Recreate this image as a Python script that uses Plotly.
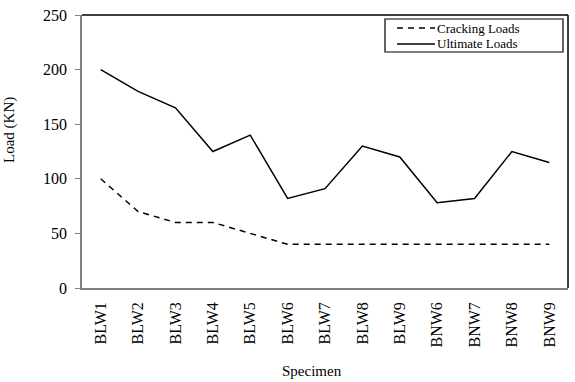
import plotly.graph_objects as go

specimens = ["BLW1", "BLW2", "BLW3", "BLW4", "BLW5", "BLW6", "BLW7", "BLW8", "BLW9",
             "BNW6", "BNW7", "BNW8", "BNW9"]
cracking_loads = [100, 70, 60, 60, 50, 40, 40, 40, 40, 40, 40, 40, 40]
ultimate_loads = [200, 180, 165, 125, 140, 82, 91, 130, 120, 78, 82, 125, 115]
y_ticks = [0, 50, 100, 150, 200, 250]
series_names = ["Cracking Loads", "Ultimate Loads"]

W, H = 575, 382
L, R, T, B = 82, 7, 15, 94
pw, ph = W - L - R, H - T - B
font_family = "Liberation Serif, Times New Roman, serif"
crack_dash = "6px,5px"


def px_x(x):
    return (x - L) / pw


def px_y(y):
    return (H - B - y) / ph


fig = go.Figure()
fig.add_trace(go.Scatter(x=specimens, y=cracking_loads, mode="lines", name=series_names[0],
                         line=dict(color="black", width=1.5, dash=crack_dash)))
fig.add_trace(go.Scatter(x=specimens, y=ultimate_loads, mode="lines", name=series_names[1],
                         line=dict(color="black", width=1.5)))

fig.update_layout(
    width=W, height=H,
    margin=dict(l=L, r=R, t=T, b=B),
    paper_bgcolor="white", plot_bgcolor="white",
    font=dict(family=font_family, color="black", size=15),
    showlegend=False,
    xaxis=dict(type="category", range=[-0.5, 12.5], showgrid=False, zeroline=False,
               showline=True, linecolor="#808080", linewidth=1.5, ticks="",
               tickangle=-90, ticklabelstandoff=6,
               tickfont=dict(size=16, family=font_family)),
    yaxis=dict(range=[0, 250], tickvals=y_ticks, showgrid=False, zeroline=False,
               showline=True, linecolor="#808080", linewidth=1.5, ticks="outside",
               ticklen=5, tickcolor="#808080", ticklabelstandoff=5,
               tickfont=dict(size=16, family=font_family)),
)

# top and right borders in black
fig.add_shape(type="line", xref="paper", yref="paper", x0=0, x1=1, y0=1, y1=1,
              line=dict(color="black", width=1.5))
fig.add_shape(type="line", xref="paper", yref="paper", x0=1, x1=1, y0=0, y1=1,
              line=dict(color="black", width=1.5))

# legend box drawn to match the reference's compact layout
fig.add_shape(type="rect", xref="paper", yref="paper",
              x0=px_x(385), x1=px_x(563), y0=px_y(52), y1=px_y(19),
              line=dict(color="black", width=1.2), fillcolor="white")
legend_rows = [(28, crack_dash), (44, "solid")]
for name, (yc, dash) in zip(series_names, legend_rows):
    fig.add_shape(type="line", xref="paper", yref="paper",
                  x0=px_x(397), x1=px_x(435), y0=px_y(yc), y1=px_y(yc),
                  line=dict(color="black", width=1.5, dash=dash))
    fig.add_annotation(text=name, xref="paper", yref="paper",
                       x=px_x(436), y=px_y(yc), xanchor="left", yanchor="middle",
                       showarrow=False, borderpad=0,
                       font=dict(size=13, family=font_family))

fig.add_annotation(text="Load (KN)", xref="paper", yref="paper",
                   x=px_x(9), y=px_y(130), textangle=-90,
                   showarrow=False, font=dict(size=15, family=font_family),
                   xanchor="center", yanchor="middle")
fig.add_annotation(text="Specimen", xref="paper", yref="paper",
                   x=px_x(312), y=px_y(381),
                   showarrow=False, font=dict(size=15, family=font_family),
                   xanchor="center", yanchor="bottom")

fig.write_html("out.html")
